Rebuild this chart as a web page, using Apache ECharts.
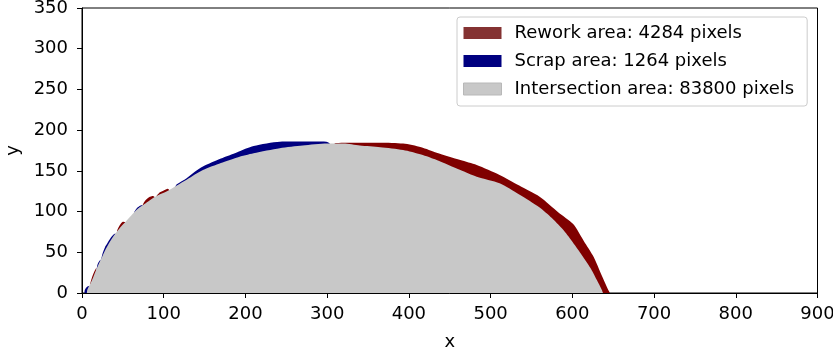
<!DOCTYPE html>
<html>
<head>
<meta charset="utf-8">
<script src="https://cdn.jsdelivr.net/npm/echarts@6/dist/echarts.min.js"></script>
<style>
  html, body { margin: 0; padding: 0; background: #fff; }
  #chart { width: 833px; height: 356px; }
</style>
</head>
<body>
<div id="chart"></div>
<script>
// Legend labels
const reworkLabel = 'Rework area: 4284 pixels';
const scrapLabel = 'Scrap area: 1264 pixels';
const interLabel = 'Intersection area: 83800 pixels';

// Axis ticks
const xTicks = [0, 100, 200, 300, 400, 500, 600, 700, 800, 900];
const yTicks = [0, 50, 100, 150, 200, 250, 300, 350];

// Boundary of the intersection region [x, y]
const intersectionEdge = [
  [6, 0], [6.5, 4], [10, 11], [14, 20], [18, 30], [23, 41], [28, 52], [33, 61],
  [38, 69], [44, 77], [50, 84], [60, 95], [69, 104], [76, 109], [83, 114],
  [93, 120], [104, 125], [116, 132], [128, 139], [138, 145.5], [148, 151],
  [170, 159.5], [190, 166.5], [210, 171.6], [242, 177.7], [270, 181],
  [300, 183.5], [320, 183.5], [340, 181], [365, 179], [393, 175.6], [415, 170],
  [434, 163.3], [463, 151], [483, 142.8], [511, 134.7], [535, 121], [560, 105],
  [575, 92], [591, 75], [603, 59], [613, 44.6], [622, 31], [630, 16], [636, 4],
  [637.5, 0]
];

// Outer edges of the rework patches
const reworkEdges = [
  [[10, 11], [12, 18.5], [15, 26], [17.5, 31]],
  [[43, 77], [46, 83], [50, 87.5], [53, 87]],
  [[74, 107.5], [77, 113], [82, 117.5], [87, 119], [89, 117.5]],
  [[91, 119], [95, 123.5], [100, 126], [105, 128], [107, 126]],
  [[309, 183.5], [311, 184.3], [340, 184.6], [365, 184.6], [393, 183.5],
   [415, 179], [434, 172.3], [463, 163.3], [483, 157.2], [511, 145],
   [535, 132], [560, 118.3], [583, 99], [601, 84.7], [614, 64], [626, 44.6],
   [636, 21.6], [644, 3.7], [646, 0]]
];

// Outer edges of the scrap patches
const scrapEdges = [
  [[3, 0], [3.5, 4], [6, 7.5], [9, 8.5], [11, 9]],
  [[18, 30], [19, 35], [21, 39], [23, 41]],
  [[23.5, 41], [25, 48], [28, 56], [31, 61], [35, 67.5], [39, 72], [41, 73]],
  [[64, 99.5], [67, 104], [71, 107], [74, 108]],
  [[114, 130.5], [116, 133.5], [128, 141], [138, 149], [148, 155.5], [170, 165.2],
   [190, 173], [210, 180.5], [242, 185.8], [270, 186], [299, 185.8], [303, 184]]
];

const REWORK = '#800000';
const SCRAP = '#000080';
const INTER = '#c8c8c8';

function areaSeries(name, color, pts, z) {
  return {
    name: name,
    type: 'line',
    data: pts,
    z: z,
    smooth: 0.25,
    showSymbol: false,
    silent: true,
    animation: false,
    lineStyle: { width: 0, color: color },
    itemStyle: { color: color },
    areaStyle: { color: color, opacity: 1, origin: 'start' }
  };
}

const series = [];
reworkEdges.forEach(seg => series.push(areaSeries(reworkLabel, REWORK, seg, 1)));
scrapEdges.forEach(seg => series.push(areaSeries(scrapLabel, SCRAP, seg, 2)));
series.push(areaSeries(interLabel, INTER, intersectionEdge, 3));

const font = 'DejaVu Sans';
const fs = 18;
const chart = echarts.init(document.getElementById('chart'), null, { renderer: 'canvas' });
chart.setOption({
  animation: false,
  backgroundColor: '#fff',
  textStyle: { fontFamily: font },
  grid: {
    left: 82, right: 15.5, top: 8, bottom: 63,
    outerBoundsMode: 'none',
    containLabel: false,
    show: true, borderColor: '#000', borderWidth: 1, backgroundColor: 'transparent'
  },
  legend: {
    orient: 'vertical',
    left: 457, top: 17,
    padding: [7, 13, 8, 6],
    itemWidth: 38, itemHeight: 12, itemGap: 10,
    backgroundColor: '#fff',
    borderColor: '#cccccc', borderWidth: 1, borderRadius: 3,
    textStyle: { fontFamily: font, fontSize: fs, color: '#000', lineHeight: fs, padding: [0, 0, 0, 8] },
    data: [
      { name: reworkLabel, icon: 'rect', itemStyle: { color: '#843232' } },
      { name: scrapLabel, icon: 'rect', itemStyle: { color: SCRAP } },
      { name: interLabel, icon: 'rect', itemStyle: { color: INTER, borderColor: '#b8b8b8', borderWidth: 1 } }
    ]
  },
  xAxis: {
    type: 'value', min: xTicks[0], max: xTicks[xTicks.length - 1], interval: 100,
    name: 'x', nameLocation: 'middle', nameGap: 40,
    nameTextStyle: { fontFamily: font, fontSize: fs, color: '#000' },
    axisLine: { show: true, onZero: false, lineStyle: { color: '#000', width: 1 } },
    axisTick: { show: true, length: 5, lineStyle: { color: '#000' } },
    axisLabel: { fontFamily: font, fontSize: fs, color: '#000', margin: 12 },
    splitLine: { show: false }
  },
  yAxis: {
    type: 'value', min: yTicks[0], max: yTicks[yTicks.length - 1], interval: 50,
    name: 'y', nameLocation: 'middle', nameGap: 59,
    nameTextStyle: { fontFamily: font, fontSize: fs, color: '#000' },
    axisLine: { show: true, onZero: false, lineStyle: { color: '#000', width: 1 } },
    axisTick: { show: true, length: 5, lineStyle: { color: '#000' } },
    axisLabel: { fontFamily: font, fontSize: fs, color: '#000', margin: 14 },
    splitLine: { show: false }
  },
  series: series
});
</script>
</body>
</html>
